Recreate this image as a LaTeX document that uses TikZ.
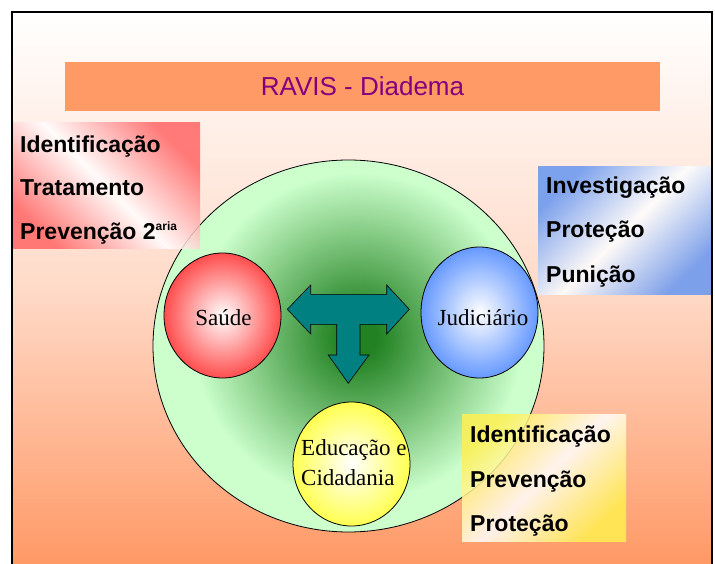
\documentclass[tikz,border=0pt]{standalone}
\usepackage{fontspec}
\setmainfont{Liberation Serif}
\newfontfamily\arialf{Liberation Sans}
\usetikzlibrary{shapes.geometric}
\definecolor{salmon}{RGB}{255,153,102}
\definecolor{bgmid}{RGB}{255,218,200}
\definecolor{titlepurple}{RGB}{128,0,128}
\definecolor{glight}{RGB}{204,255,204}
\definecolor{gdark}{RGB}{34,130,34}
\definecolor{tealc}{RGB}{0,128,128}
\definecolor{redc}{RGB}{255,77,77}
\definecolor{bluec}{RGB}{102,153,255}
\definecolor{yellowc}{RGB}{255,255,80}
\definecolor{boxred}{RGB}{255,102,102}
\definecolor{boxblue}{RGB}{102,150,240}
\definecolor{boxyellow}{RGB}{255,240,80}
\pgfdeclareradialshading{greenglow}{\pgfpoint{0bp}{0bp}}{color(0bp)=(gdark); color(3bp)=(gdark); color(25bp)=(glight); color(50bp)=(glight)}
\tikzset{
  boxtext/.style={font=\arialf\bfseries\fontsize{23}{23}\selectfont, anchor=base west, inner sep=0pt},
  circlabel/.style={font=\fontsize{23}{23}\selectfont, anchor=base, inner sep=0pt},
  circlabelw/.style={font=\fontsize{23}{23}\selectfont, anchor=base west, inner sep=0pt},
  ball/.style={ellipse, draw=black, line width=0.8pt, inner sep=0pt, minimum width=117pt},
  infobox/.style={fill opacity=0.85}
}
\begin{document}
\begin{tikzpicture}[x=1pt,y=-1pt]
\useasboundingbox (0,0) rectangle (715,564);
\fill[white] (0,0) rectangle (715,564);
% background
\shade[top color=white, bottom color=salmon, middle color=bgmid] (12,12) rectangle (712,564);
% title
\node[fill=salmon, minimum width=595pt, minimum height=49pt, inner sep=0pt,
      font=\arialf\fontsize{26}{26}\selectfont, text=titlepurple] (title) at (362.5,86.5) {RAVIS - Diadema};
% big circle
\fill[glight] (348.5,346) ellipse [x radius=195.5, y radius=186];
\begin{scope}
  \clip (348.5,346) ellipse [x radius=195.5, y radius=186];
  \shade[shading=greenglow] (358,337) circle [radius=165];
\end{scope}
\node[ellipse, draw=black, line width=0.8pt, minimum width=391pt, minimum height=372pt, inner sep=0pt] (big) at (348.5,346) {};
% small circles
\node[ball, minimum height=125pt, inner color=white, outer color=redc] (saude) at (222.5,315.5) {};
\node[ball, minimum height=131pt, inner color=white, outer color=bluec] (jud) at (479.5,312.5) {};
\node[ball, minimum height=124pt, inner color=white, outer color=yellowc] (edu) at (351.5,464) {};
\node[circlabel] (saudeL) at (223.5,325) {Saúde};
\node[circlabel] (judL) at (483,325) {Judiciário};
\node[circlabelw] (eduL1) at (301,455) {Educação e};
\node[circlabelw] (eduL2) at (301,485) {Cidadania};
% T arrow
\draw[fill=tealc, draw=black, line width=0.6pt, line join=miter]
  (287.3,309.3) -- (310.7,285) -- (310.7,294.3) -- (386.7,294.3) -- (386.7,285)
  -- (409.3,309.3) -- (386.7,334) -- (386.7,324.3) -- (360,324.3) -- (360,355)
  -- (369,355) -- (348.3,383.3) -- (328.3,355) -- (336.7,355) -- (336.7,324.3)
  -- (310.7,324.3) -- (310.7,334) -- cycle;
% info boxes
\shade[infobox, top color=boxred, bottom color=boxred, middle color=white, shading angle=-45] (12,123) rectangle (200,249);
\shade[infobox, top color=boxblue, bottom color=boxblue, middle color=white, shading angle=45] (538,167) rectangle (712,294);
\shade[infobox, top color=boxyellow, bottom color=boxyellow, middle color=white, shading angle=45] (462,414) rectangle (626,541);
\node[boxtext] (l1) at (20,153) {Identificação};
\node[boxtext] (l2) at (20,196) {Tratamento};
\node[boxtext] (l3) at (20,240) {Prevenção 2\raisebox{9.5pt}{\fontsize{12}{12}\selectfont aria}};
\node[boxtext] (r1) at (546,194) {Investigação};
\node[boxtext] (r2) at (546,238) {Proteção};
\node[boxtext] (r3) at (546,282) {Punição};
\node[boxtext] (y1) at (470,442) {Identificação};
\node[boxtext] (y2) at (470,487) {Prevenção};
\node[boxtext] (y3) at (470,531) {Proteção};
% frame
\draw[line width=2.3pt, line join=miter] (12,564) -- (12,12) -- (712,12) -- (712,564);
\end{tikzpicture}
\end{document}
